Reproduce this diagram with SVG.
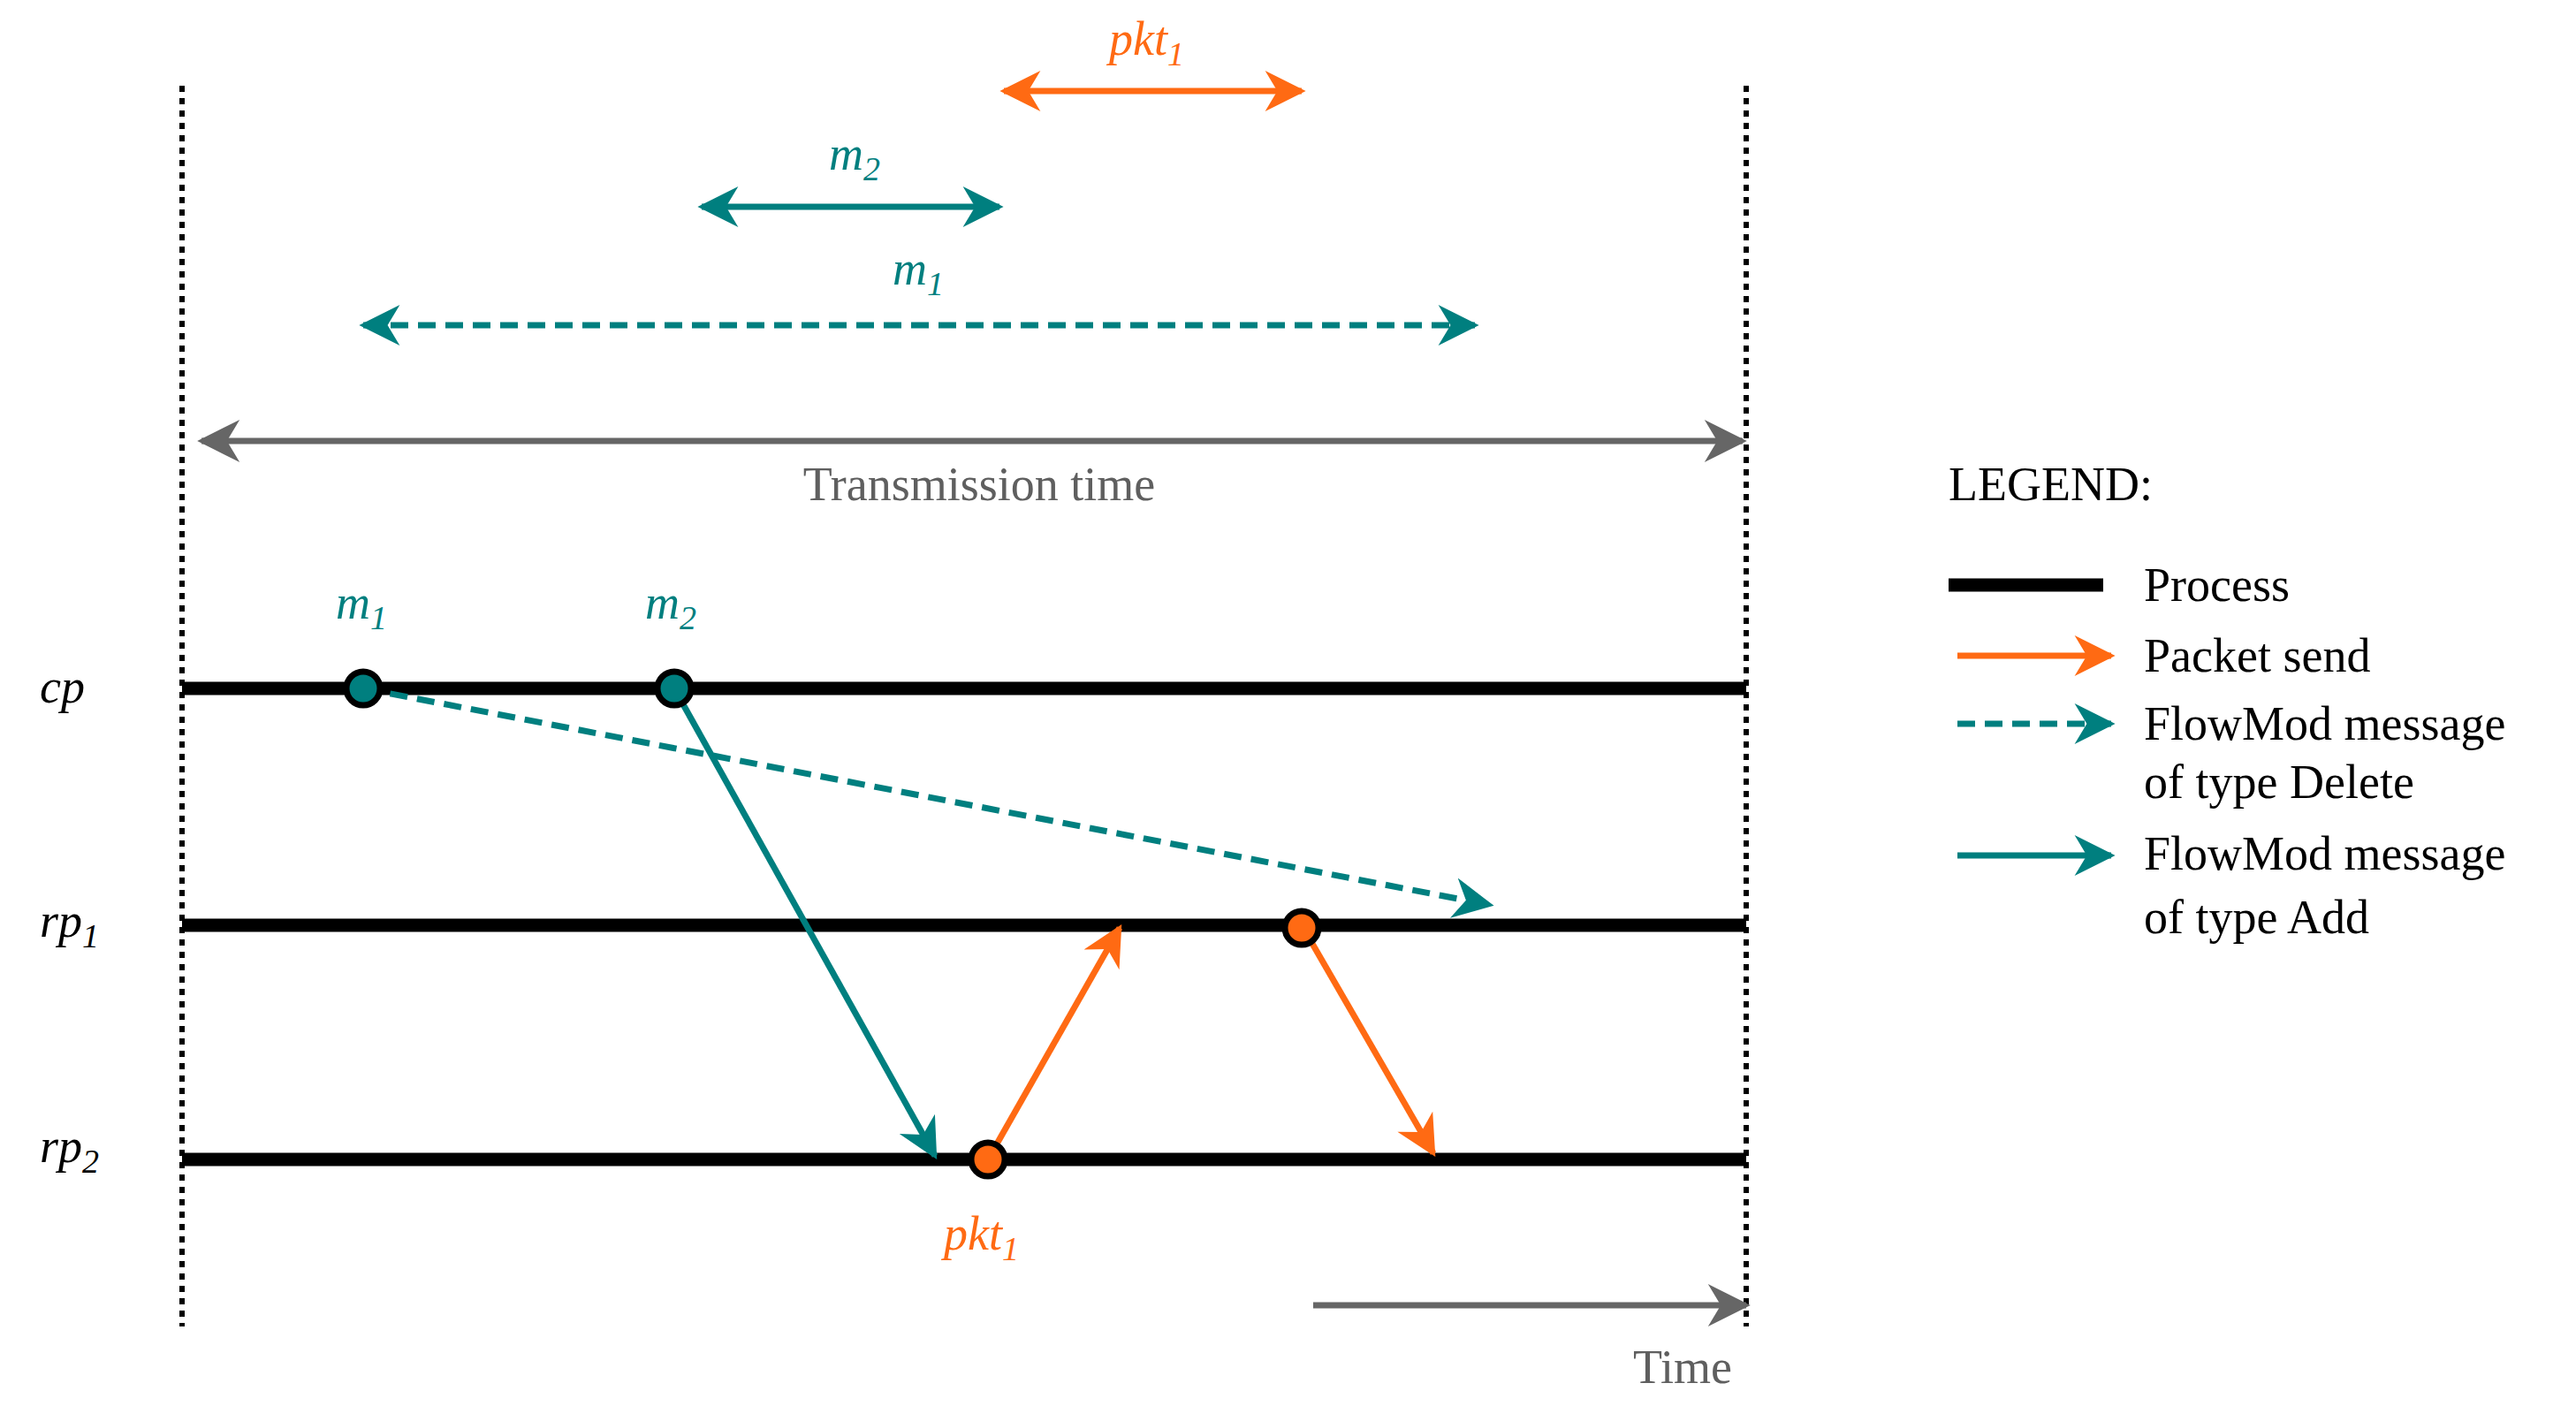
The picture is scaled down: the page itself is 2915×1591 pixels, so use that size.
<svg xmlns="http://www.w3.org/2000/svg" width="2915" height="1591" viewBox="0 0 2915 1591">
<style>
text{font-family:"Liberation Serif","Times New Roman",serif;font-size:54px}
.it{font-style:italic}
.teal{fill:#007f7f}.or{fill:#ff6a13}.gr{fill:#5f5f5f}
.proc{stroke:#000;stroke-width:15}
.dot{stroke:#000;stroke-width:6;fill:none;stroke-dasharray:7 7}
.t{stroke:#007f7f;stroke-width:7;fill:none}
.o{stroke:#ff6a13;stroke-width:7;fill:none}
.g{stroke:#666;stroke-width:7;fill:none}
.d{stroke-dasharray:20 11}
.ev{stroke:#000;stroke-width:7}
</style>
<defs>
<marker id="at" viewBox="0 0 10 10" refX="9" refY="5" markerUnits="userSpaceOnUse" markerWidth="54" markerHeight="46" orient="auto-start-reverse"><path d="M0,0 L10,5 L0,10 L3,5z" fill="#007f7f"/></marker>
<marker id="ao" viewBox="0 0 10 10" refX="9" refY="5" markerUnits="userSpaceOnUse" markerWidth="54" markerHeight="46" orient="auto-start-reverse"><path d="M0,0 L10,5 L0,10 L3,5z" fill="#ff6a13"/></marker>
<marker id="ag" viewBox="0 0 10 10" refX="9" refY="5" markerUnits="userSpaceOnUse" markerWidth="58" markerHeight="48" orient="auto-start-reverse"><path d="M0,0 L10,5 L0,10 L3,5z" fill="#666"/></marker>
</defs>
<g id="bounds">
<line class="dot" x1="206" y1="97" x2="206" y2="1501"/>
<line class="dot" x1="1976" y1="97" x2="1976" y2="1501"/>
</g>
<g id="process-cp"><line class="proc" x1="206" y1="779" x2="1976" y2="779"/><text class="it" x="45" y="795">cp</text></g>
<g id="process-rp1"><line class="proc" x1="206" y1="1047" x2="1976" y2="1047"/><text class="it" x="45" y="1060">rp<tspan font-size="38" dy="12">1</tspan></text></g>
<g id="process-rp2"><line class="proc" x1="206" y1="1312" x2="1976" y2="1312"/><text class="it" x="45" y="1315">rp<tspan font-size="38" dy="12">2</tspan></text></g>
<g id="connectors">
<line class="t d" x1="411" y1="779" x2="1686" y2="1024" marker-end="url(#at)"/>
<line class="t" x1="763" y1="779" x2="1058" y2="1308" marker-end="url(#at)"/>
<line class="o" x1="1118" y1="1312" x2="1267" y2="1050" marker-end="url(#ao)"/>
<line class="o" x1="1473" y1="1047" x2="1622" y2="1305" marker-end="url(#ao)"/>
<line class="o" x1="1136" y1="103" x2="1473" y2="103" marker-start="url(#ao)" marker-end="url(#ao)"/>
<line class="t" x1="794" y1="234" x2="1131" y2="234" marker-start="url(#at)" marker-end="url(#at)"/>
<line class="t d" x1="411" y1="368" x2="1669" y2="368" marker-start="url(#at)" marker-end="url(#at)"/>
<line class="g" x1="228" y1="499" x2="1972" y2="499" marker-start="url(#ag)" marker-end="url(#ag)"/>
<line class="g" x1="1486" y1="1477" x2="1976" y2="1477" marker-end="url(#ag)"/>
</g>
<g id="events">
<circle class="ev" cx="411" cy="779" r="19" fill="#007f7f"/>
<circle class="ev" cx="763" cy="779" r="19" fill="#007f7f"/>
<circle class="ev" cx="1473" cy="1050" r="19" fill="#ff6a13"/>
<circle class="ev" cx="1118" cy="1312" r="19" fill="#ff6a13"/>
</g>
<g id="labels">
<text class="it teal" x="380" y="700">m<tspan font-size="38" dy="12">1</tspan></text>
<text class="it teal" x="730" y="700">m<tspan font-size="38" dy="12">2</tspan></text>
<text class="it or" x="1068" y="1414">pkt<tspan font-size="38" dy="12">1</tspan></text>
<text class="it or" x="1255" y="62">pkt<tspan font-size="38" dy="12">1</tspan></text>
<text class="it teal" x="938" y="192">m<tspan font-size="38" dy="12">2</tspan></text>
<text class="it teal" x="1010" y="322">m<tspan font-size="38" dy="12">1</tspan></text>
<text class="gr" x="1108" y="566" text-anchor="middle">Transmission time</text>
<text class="gr" x="1960" y="1565" text-anchor="end">Time</text>
</g>
<g id="legend">
<text x="2205" y="566" font-size="60">LEGEND:</text>
<line class="proc" x1="2205" y1="662" x2="2380" y2="662"/>
<text x="2426" y="680">Process</text>
<line class="o" x1="2215" y1="742" x2="2389" y2="742" marker-end="url(#ao)"/>
<text x="2426" y="760">Packet send</text>
<line class="t d" x1="2215" y1="819" x2="2389" y2="819" marker-end="url(#at)"/>
<text x="2426" y="837">FlowMod message</text>
<text x="2426" y="903">of type Delete</text>
<line class="t" x1="2215" y1="968" x2="2389" y2="968" marker-end="url(#at)"/>
<text x="2426" y="984">FlowMod message</text>
<text x="2426" y="1056">of type Add</text>
</g>
</svg>
